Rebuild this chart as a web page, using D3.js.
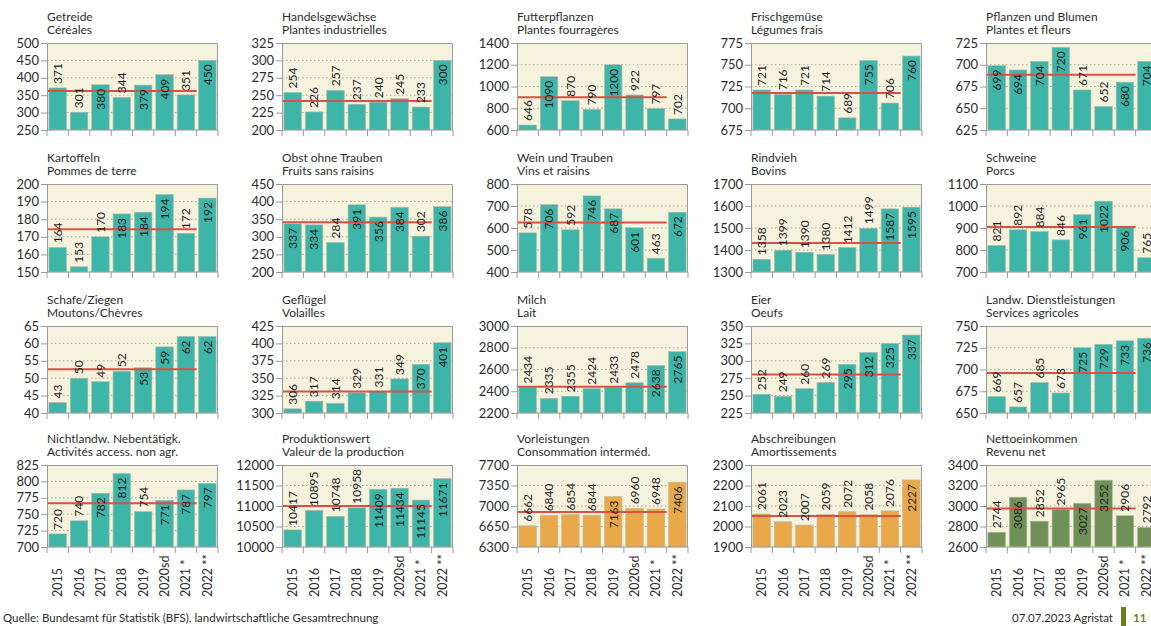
<!DOCTYPE html>
<html><head><meta charset="utf-8">
<script src="https://cdn.jsdelivr.net/npm/d3@7"></script>
<style>
html,body{margin:0;padding:0;background:#fff;overflow:hidden}
svg{display:block;font-family:Lato,"Open Sans",sans-serif}
</style></head>
<body><svg id="chart" width="1151" height="626"></svg>
<script>
// ---------- data ----------
const years = ["2015","2016","2017","2018","2019","2020sd","2021 *","2022 **"];
const titlesDe = ["Getreide","Handelsgewächse","Futterpflanzen","Frischgemüse","Pflanzen und Blumen",
  "Kartoffeln","Obst ohne Trauben","Wein und Trauben","Rindvieh","Schweine",
  "Schafe/Ziegen","Geflügel","Milch","Eier","Landw. Dienstleistungen",
  "Nichtlandw. Nebentätigk.","Produktionswert","Vorleistungen","Abschreibungen","Nettoeinkommen"];
const titlesFr = ["Céréales","Plantes industrielles","Plantes fourragères","Légumes frais","Plantes et fleurs",
  "Pommes de terre","Fruits sans raisins","Vins et raisins","Bovins","Porcs",
  "Moutons/Chèvres","Volailles","Lait","Oeufs","Services agricoles",
  "Activités access. non agr.","Valeur de la production","Consommation interméd.","Amortissements","Revenu net"];
const yMin  = [250,200,600,675,625, 150,200,400,1300,700, 40,300,2200,225,650, 700,10000,6300,1900,2600];
const yMax  = [500,325,1400,775,725, 200,450,800,1700,1100, 65,425,3000,350,750, 825,12000,7700,2300,3400];
const yStep = [50,25,200,25,25, 10,50,100,100,100, 5,25,200,25,25, 25,500,350,100,200];

const getreide      = [371,301,380,344,379,409,351,450];
const handels       = [254,226,257,237,240,245,233,300];
const futter        = [646,1090,870,790,1200,922,797,702];
const gemuese       = [721,716,721,714,689,755,706,760];
const pflanzen      = [699,694,704,720,671,652,680,704];
const kartoffeln    = [164,153,170,183,184,194,172,192];
const obst          = [337,334,284,391,356,384,302,386];
const wein          = [578,706,592,746,687,601,463,672];
const rindvieh      = [1358,1399,1390,1380,1412,1499,1587,1595];
const schweine      = [821,892,884,846,961,1022,906,765];
const schafe        = [43,50,49,52,53,59,62,62];
const gefluegel     = [306,317,314,329,331,349,370,401];
const milch         = [2434,2335,2355,2424,2433,2478,2638,2765];
const eier          = [252,249,260,269,295,312,325,337];
const dienst        = [669,657,685,673,725,729,733,736];
const nichtlandw    = [720,740,782,812,754,771,787,797];
const produktion    = [10417,10895,10748,10958,11409,11434,11145,11671];
const vorleistungen = [6662,6840,6854,6844,7163,6960,6948,7406];
const abschreib     = [2061,2023,2007,2059,2072,2058,2076,2227];
const netto         = [2744,3086,2852,2965,3027,3252,2906,2792];
const series = [getreide,handels,futter,gemuese,pflanzen,kartoffeln,obst,wein,rindvieh,schweine,
  schafe,gefluegel,milch,eier,dienst,nichtlandw,produktion,vorleistungen,abschreib,netto];

const sourceText = "Quelle: Bundesamt für Statistik (BFS), landwirtschaftliche Gesamtrechnung";
const dateText = "07.07.2023 Agristat";
const pageText = "11";

// ---------- layout ----------
const colLeft = [47, 282, 517, 751, 986];
const rowTop = [43, 184, 326, 465];
const rowH = [87, 88, 87, 82];
const plotW = 171;
const COL = {teal:"#3db5a8", orange:"#e9a94b", green:"#6f9158"};
const svg = d3.select("#chart");

series.forEach((vals, i) => {
  const r = Math.floor(i/5), c = i%5;
  const ph = rowH[r];
  const g = svg.append("g").attr("transform", `translate(${colLeft[c]},${rowTop[r]})`);
  const x = d3.scaleBand().domain(years).range([0, plotW]).paddingInner(0.18).paddingOuter(0.09);
  const y = d3.scaleLinear().domain([yMin[i], yMax[i]]).range([ph, 0]);
  const ticks = d3.range(yMin[i], yMax[i] + yStep[i]/2, yStep[i]);
  const color = i < 17 ? COL.teal : (i < 19 ? COL.orange : COL.green);

  // titles
  g.append("text").attr("x", 0).attr("y", -22).text(titlesDe[i])
    .attr("font-size", 12).attr("fill", "#2d2d2d");
  g.append("text").attr("x", 0).attr("y", -9).text(titlesFr[i])
    .attr("font-size", 12).attr("fill", "#2d2d2d");

  // background
  g.append("rect").attr("width", plotW).attr("height", ph).attr("fill", "#f5f2de");

  // grid
  g.selectAll(".grid").data(ticks.slice(1, -1)).join("line")
    .attr("x1", 0).attr("x2", plotW).attr("y1", d => y(d)).attr("y2", d => y(d))
    .attr("stroke", "#a8a796").attr("stroke-width", 1).attr("stroke-dasharray", "1.5,2.5");

  // bars
  g.selectAll(".bar").data(vals).join("rect")
    .attr("x", (d, k) => x(years[k])).attr("width", x.bandwidth())
    .attr("y", d => y(d)).attr("height", d => ph - y(d))
    .attr("fill", color).attr("stroke", "#b9b9a8").attr("stroke-width", 0.6);

  // frame (top & right)
  g.append("path").attr("d", `M0,0.5H${plotW-0.5}V${ph}`).attr("fill", "none")
    .attr("stroke", "#9a9a9a").attr("stroke-width", 1);

  // average line (2015-2021)
  const avg = d3.mean(vals.slice(0, 7));
  g.append("line").attr("x1", 1).attr("x2", x.step() * 7)
    .attr("y1", y(avg)).attr("y2", y(avg))
    .attr("stroke", "#dc4f45").attr("stroke-width", 2);

  // value labels
  const frac = d => (d - yMin[i]) / (yMax[i] - yMin[i]);
  g.selectAll(".val").data(vals).join("text")
    .attr("transform", (d, k) => {
      const cx = x(years[k]) + x.bandwidth()/2;
      const yy = frac(d) > 0.5 ? y(d) + 4 : y(d) - 4;
      return `translate(${cx},${yy}) rotate(-90)`;
    })
    .attr("text-anchor", d => frac(d) > 0.5 ? "end" : "start")
    .attr("dy", "0.36em").attr("font-size", 12).attr("fill", "#1f1f1f")
    .text(d => d);

  // y axis
  const ya = g.append("g").call(d3.axisLeft(y).tickValues(ticks).tickSize(6).tickPadding(2).tickFormat(d3.format("d")));
  ya.select(".domain").attr("stroke", "#9a9a9a");
  ya.selectAll(".tick line").attr("stroke", "#9a9a9a");
  ya.selectAll("text").attr("font-size", 13).attr("fill", "#2d2d2d").attr("font-family", "Lato, sans-serif");

  // x axis with ticks at band boundaries
  const xa = g.append("g").attr("transform", `translate(0,${ph})`);
  xa.append("line").attr("x1", 0).attr("x2", plotW).attr("stroke", "#9a9a9a");
  xa.selectAll(".xt").data(d3.range(years.length + 1)).join("line")
    .attr("x1", k => k * x.step()).attr("x2", k => k * x.step())
    .attr("y1", 0).attr("y2", 6).attr("stroke", "#9a9a9a");

  if (r === 3) {
    xa.selectAll(".xl").data(years).join("text")
      .attr("transform", d => `translate(${x(d) + x.bandwidth()/2},${597 - rowTop[r] - ph}) rotate(-90)`)
      .attr("text-anchor", "start").attr("dy", "0.36em")
      .attr("font-size", 12.5).attr("fill", "#2d2d2d").text(d => d);
  }
});

// footer
svg.append("text").attr("x", 3).attr("y", 622).attr("font-size", 11.5).attr("fill", "#2d2d2d").text(sourceText);
svg.append("text").attr("x", 1113).attr("y", 622).attr("text-anchor", "end").attr("font-size", 11.5).attr("fill", "#2d2d2d").text(dateText);
svg.append("rect").attr("x", 1121).attr("y", 607).attr("width", 5).attr("height", 19).attr("fill", "#6b7f1f");
svg.append("text").attr("x", 1133).attr("y", 622).attr("font-size", 11.5).attr("font-weight", "bold").attr("fill", "#6b7f1f").text(pageText);
</script></body></html>
